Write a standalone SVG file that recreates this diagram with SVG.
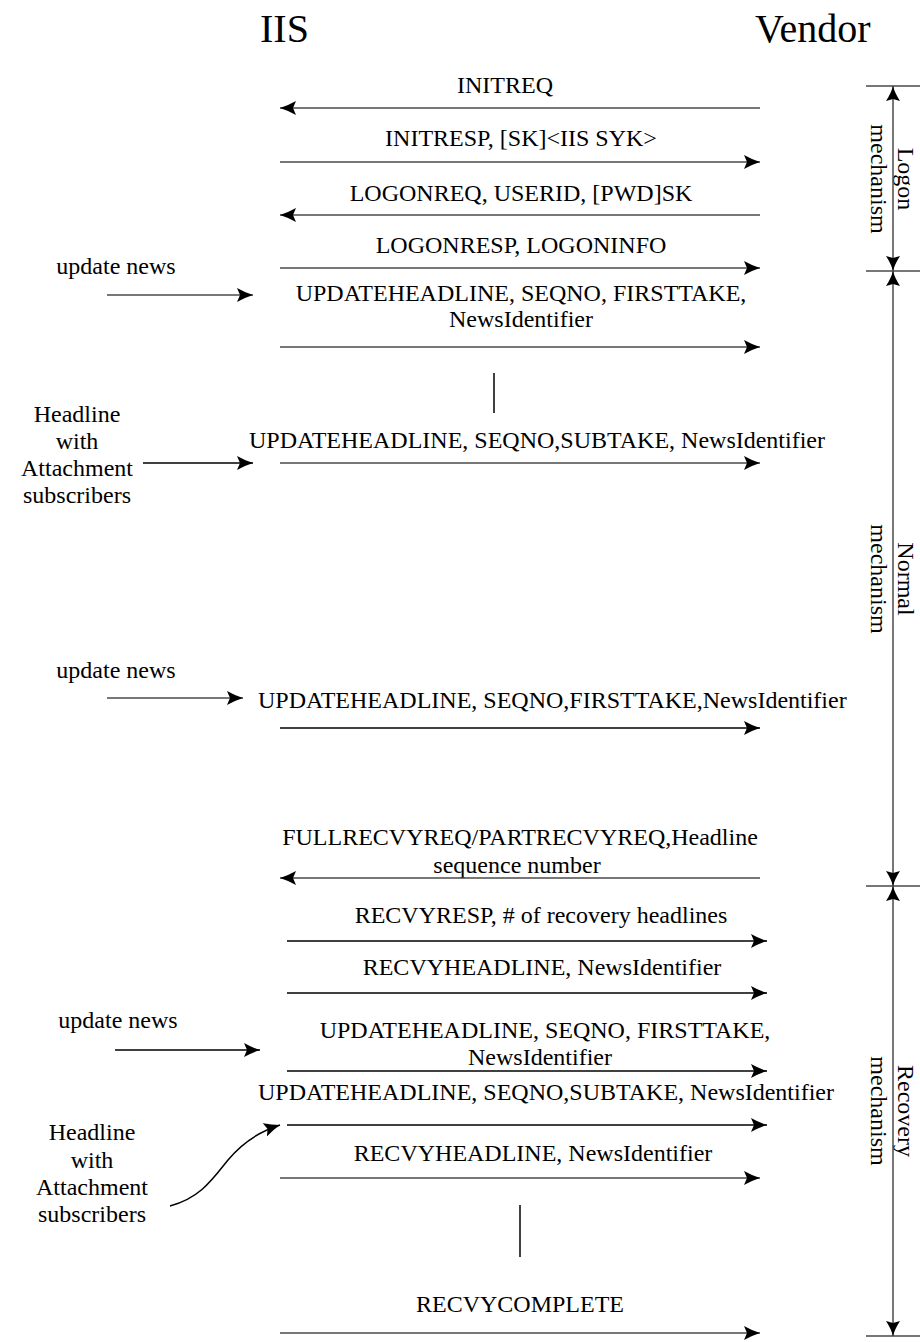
<svg xmlns="http://www.w3.org/2000/svg" width="920" height="1342" viewBox="0 0 920 1342">
<style>
text{font-family:"Liberation Serif","Times New Roman",serif;fill:#000}
.t{font-size:40px}
.m{font-size:24px;text-anchor:middle}
.s{font-size:24px}
.l{font-size:24px;text-anchor:middle}
.ln{stroke:#4a4a4a;stroke-width:1.5;fill:none}
.lk{stroke:#000;stroke-width:1.5;fill:none}
.ma{marker-end:url(#ah)}
</style>
<defs>
<marker id="ah" viewBox="0 0 16 14" refX="16" refY="7" markerWidth="16" markerHeight="14" orient="auto" markerUnits="userSpaceOnUse">
<path d="M0,0 Q8,4.5 16,7 Q8,9.5 0,14 L3,7 Z" fill="#000"/>
</marker>
<marker id="bh" viewBox="0 0 15 14" refX="15" refY="7" markerWidth="15" markerHeight="14" orient="auto" markerUnits="userSpaceOnUse">
<path d="M0,0 Q8,5.2 15,7 Q8,8.8 0,14 L2,7 Z" fill="#000"/>
</marker>
</defs>

<g id="iis"><text class="t" x="260" y="42">IIS</text></g>
<g id="vendor"><text class="t" x="755" y="42">Vendor</text></g>

<g id="msg-labels">
<text class="m" x="505" y="93">INITREQ</text>
<text class="m" x="521" y="146">INITRESP, [SK]&lt;IIS SYK&gt;</text>
<text class="m" x="521" y="201">LOGONREQ, USERID, [PWD]SK</text>
<text class="m" x="521" y="253">LOGONRESP, LOGONINFO</text>
<text class="m" x="521" y="301">UPDATEHEADLINE, SEQNO, FIRSTTAKE,</text>
<text class="m" x="521" y="327">NewsIdentifier</text>
<text class="m" x="537" y="448">UPDATEHEADLINE, SEQNO,SUBTAKE, NewsIdentifier</text>
<text class="s" x="258" y="708">UPDATEHEADLINE, SEQNO,FIRSTTAKE,NewsIdentifier</text>
<text class="m" x="520" y="845">FULLRECVYREQ/PARTRECVYREQ,Headline</text>
<text class="m" x="517" y="873">sequence number</text>
<text class="m" x="541" y="923">RECVYRESP, # of recovery headlines</text>
<text class="m" x="542" y="975">RECVYHEADLINE, NewsIdentifier</text>
<text class="m" x="545" y="1038">UPDATEHEADLINE, SEQNO, FIRSTTAKE,</text>
<text class="m" x="540" y="1065">NewsIdentifier</text>
<text class="m" x="546" y="1100">UPDATEHEADLINE, SEQNO,SUBTAKE, NewsIdentifier</text>
<text class="m" x="533" y="1161">RECVYHEADLINE, NewsIdentifier</text>
<text class="m" x="520" y="1312">RECVYCOMPLETE</text>
</g>

<g id="input1"><text class="l" x="116" y="274">update news</text></g>
<g id="input2">
<text class="l" x="77" y="422">Headline</text>
<text class="l" x="77" y="449">with</text>
<text class="l" x="77" y="476">Attachment</text>
<text class="l" x="77" y="503">subscribers</text>
</g>
<g id="input3"><text class="l" x="116" y="678">update news</text></g>
<g id="input4"><text class="l" x="118" y="1028">update news</text></g>
<g id="input5">
<text class="l" x="92" y="1140">Headline</text>
<text class="l" x="92" y="1168">with</text>
<text class="l" x="92" y="1195">Attachment</text>
<text class="l" x="92" y="1222">subscribers</text>
</g>

<g id="phase-logon"><text class="l" transform="translate(898,179) rotate(90)"><tspan x="0" y="0">Logon</tspan><tspan x="0" y="27">mechanism</tspan></text></g>
<g id="phase-normal"><text class="l" transform="translate(898,579) rotate(90)"><tspan x="0" y="0">Normal</tspan><tspan x="0" y="27">mechanism</tspan></text></g>
<g id="phase-recovery"><text class="l" transform="translate(898,1111) rotate(90)"><tspan x="0" y="0">Recovery</tspan><tspan x="0" y="27">mechanism</tspan></text></g>

<g id="connectors">
<line class="ln ma" x1="760" y1="108" x2="280" y2="108"/>
<line class="ln ma" x1="280" y1="162" x2="760" y2="162"/>
<line class="ln ma" x1="760" y1="215" x2="280" y2="215"/>
<line class="ln ma" x1="280" y1="268" x2="760" y2="268"/>
<line class="ln ma" x1="107" y1="295" x2="253" y2="295"/>
<line class="ln ma" x1="280" y1="347" x2="760" y2="347"/>
<line class="lk" x1="494" y1="373" x2="494" y2="413"/>
<line class="lk ma" x1="143" y1="463" x2="253" y2="463"/>
<line class="ln ma" x1="280" y1="463" x2="760" y2="463"/>
<line class="ln ma" x1="107" y1="698" x2="243" y2="698"/>
<line class="lk ma" x1="280" y1="728" x2="760" y2="728"/>
<line class="ln ma" x1="760" y1="878" x2="280" y2="878"/>
<line class="lk ma" x1="287" y1="941" x2="767" y2="941"/>
<line class="lk ma" x1="287" y1="993" x2="767" y2="993"/>
<line class="lk ma" x1="115" y1="1050" x2="260" y2="1050"/>
<line class="lk ma" x1="287" y1="1071" x2="767" y2="1071"/>
<line class="lk ma" x1="287" y1="1125" x2="767" y2="1125"/>
<path class="lk ma" d="M170,1206 C200,1198 212,1180 228,1160 C242,1143 258,1132 280,1125"/>
<line class="ln ma" x1="280" y1="1178" x2="760" y2="1178"/>
<line class="lk" x1="520" y1="1205" x2="520" y2="1257"/>
<line class="ln ma" x1="280" y1="1333" x2="760" y2="1333"/>
<line class="ln" x1="866" y1="86" x2="920" y2="86"/>
<line class="ln" x1="866" y1="271" x2="920" y2="271"/>
<line class="ln" x1="866" y1="886" x2="920" y2="886"/>
<line class="ln" x1="866" y1="1336" x2="920" y2="1336"/>
<line class="ln" x1="893" y1="179" x2="893" y2="86" marker-end="url(#bh)"/>
<line class="ln" x1="893" y1="179" x2="893" y2="271" marker-end="url(#bh)"/>
<line class="ln" x1="893" y1="579" x2="893" y2="271" marker-end="url(#bh)"/>
<line class="ln" x1="893" y1="579" x2="893" y2="886" marker-end="url(#bh)"/>
<line class="ln" x1="893" y1="1111" x2="893" y2="886" marker-end="url(#bh)"/>
<line class="ln" x1="893" y1="1111" x2="893" y2="1336" marker-end="url(#bh)"/>
</g>
</svg>
